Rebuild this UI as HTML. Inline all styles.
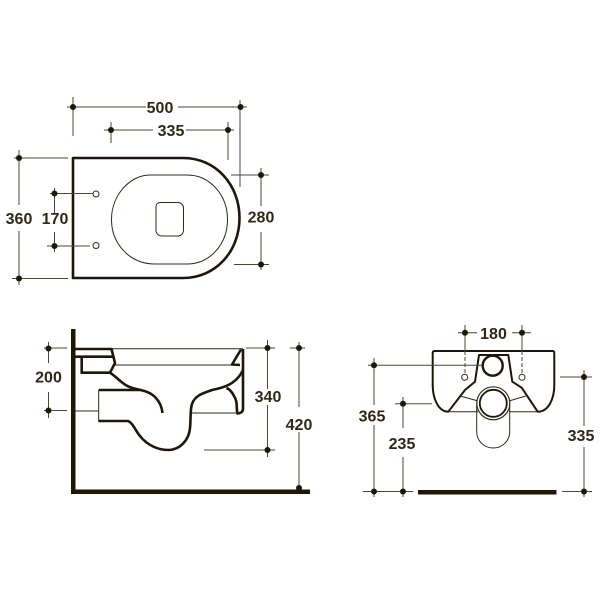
<!DOCTYPE html>
<html><head><meta charset="utf-8"><style>
html,body{margin:0;padding:0;background:#fff;width:600px;height:600px;overflow:hidden}
svg{display:block}
text{font-family:"Liberation Sans",sans-serif;font-weight:bold;font-size:16px;fill:#2e2818;text-anchor:middle}
.d{stroke:#4a4536;stroke-width:1;fill:none}
.t{stroke:#1e1608;fill:none;stroke-width:2.6;stroke-linejoin:round}
.n{stroke:#2e2818;fill:none;stroke-width:1}
.m{stroke:#1e1608;fill:none;stroke-width:2;stroke-linejoin:round}
circle.p{fill:#1e1608;stroke:none}
</style></head><body>
<svg width="600" height="600" viewBox="0 0 600 600" xmlns="http://www.w3.org/2000/svg">
<rect width="600" height="600" fill="#fff"/>
<!-- top view -->
<path class="t" d="M73 158H183C216 158 239.500 185 239.500 218C239.500 251 216 278 183 278H73Z"/>
<path class="n" d="M150 175H187C210 175 227.500 195 227.500 219.500C227.500 244 210 264 187 264H155C130 264 111.500 244 111.500 219.500C111.500 195 130 175 150 175Z"/>
<path class="n" d="M160 202.500H178C181 202.500 183.500 205 183.500 208V230C183.500 233.500 181 236 178 236H162C158.500 236 156 233.500 156 230V206.500C156 204 158 202.500 160 202.500Z"/>
<circle class="n" cx="96" cy="194" r="3"/><circle class="n" cx="96" cy="245.500" r="3"/>
<path class="d" d="M67 107H146M178 107H247M73 97V136M240 100V187M104 130H153M186 130H234M111 122V143M228 122V160M14 158H68M12 278.500H68M19 150V205M19 231V285M50 193.500H93M47 246H90M54.500 188V213M54.500 232V252M231 175H269M234 264.500H269M261 168V206M261 232V270"/>
<circle class="p" cx="73" cy="107" r="3"/><circle class="p" cx="240.500" cy="107" r="3"/>
<circle class="p" cx="111" cy="130" r="3"/><circle class="p" cx="228" cy="130" r="3"/>
<circle class="p" cx="19" cy="158" r="3"/><circle class="p" cx="19" cy="278.500" r="3"/>
<circle class="p" cx="54.500" cy="193.500" r="3"/><circle class="p" cx="54.500" cy="246" r="3"/>
<circle class="p" cx="261" cy="175" r="3"/><circle class="p" cx="261" cy="264.500" r="3"/>
<text x="160" y="113">500</text><text x="171" y="136">335</text>
<text x="19" y="224">360</text><text x="55" y="224">170</text><text x="261" y="222.500">280</text>
<!-- side view -->
<path d="M71 329H75.500V489.500H310V494H71Z" fill="#1e1608"/>
<path class="n" d="M111 348.700H243M115 365H236M75 411H98.700M98.700 390V422M192 413H237"/>
<path class="t" d="M75 349H111.500L115 363L110 372.700H81.700V356.700M75 356.700H113"/>
<path class="t" d="M110 372.700C118 378 123 385 131 387.500C139 390.500 148 390 155 397C160 402 162 408 162.500 413"/>
<path class="t" d="M98.700 390H140M98.700 421H128C133 423 135 430 140 436C147 445 158 450 168 450C180 450 189 440 190 428C191 418 190 410 192 404C195 395 204 393 212 390C222 388 236 385 243 370"/>
<path class="t" stroke-width="2.400" d="M243 349V409C243 412 240 413.500 237.500 413.500C236 408 238 402 234 396C232 392 229 389 226.500 388M241 349.500L232 364.500L240 365"/>
<path class="d" d="M246 348H275M204 450H275M267.500 340V389M267.500 405V457M305 348H290M299 342V407M299 432V488M44 348H67M44 410.500H67M48.500 342V363M48.500 392V418"/>
<circle class="p" cx="267.500" cy="348" r="3"/><circle class="p" cx="267.500" cy="450" r="3"/>
<circle class="p" cx="299" cy="348" r="3"/><circle class="p" cx="299" cy="488" r="3"/>
<circle class="p" cx="48.500" cy="348.500" r="3"/><circle class="p" cx="48.500" cy="410.500" r="3"/>
<text x="48.500" y="382.500">200</text><text x="268" y="402">340</text><text x="299" y="430">420</text>
<!-- front view -->
<path class="m" d="M434.500 351H552.500Q554.300 351 554.300 353V385C554.300 398 549 411.700 537.700 411.700L521.700 387.700L512.300 381.700L508.300 355H479L475 381.700L465 390L448.300 411.700C438 411.700 432.700 398 432.700 385V353Q432.700 351 434.500 351Z"/>
<path class="n" d="M448.300 411.700H478M509 411.700H537.700M460 396L478.300 401M509 401L525.700 396"/>
<circle cx="492.700" cy="365.700" r="10" fill="#fff" stroke="#1e1608" stroke-width="2.400"/>
<path class="n" stroke-width="1.200" d="M476.700 405V431.500C476.700 441 484 448 493.200 448C502.500 448 509.700 441 509.700 431.500V405"/>
<circle cx="493.300" cy="403.300" r="16.500" fill="#fff" stroke="#2e2818" stroke-width="1.200"/>
<circle cx="493.300" cy="403.300" r="13.500" fill="#fff" stroke="#1e1608" stroke-width="1.800"/>
<circle class="n" cx="464.700" cy="377.300" r="3"/><circle class="n" cx="522" cy="377.300" r="3"/>
<path class="d" stroke-dasharray="4 2" d="M465 351V373M522 351V373"/>
<path class="d" d="M458 332.700H477M512 332.700H531M465 325V351M522 325V351M368 365.300H482M363 491.500H413M395 403.700H432M374 358V405M374 425V497M403 397V428M403 457V497M560 377H592M562 491.500H592M584 370V426M584 447V497"/>
<rect x="418" y="490" width="138.500" height="4.500" fill="#1e1608"/>
<circle class="p" cx="465" cy="332.700" r="3"/><circle class="p" cx="522" cy="332.700" r="3"/>
<circle class="p" cx="374" cy="365.300" r="3"/><circle class="p" cx="374" cy="491.500" r="3"/>
<circle class="p" cx="403" cy="403.700" r="3"/><circle class="p" cx="403" cy="491.500" r="3"/>
<circle class="p" cx="584" cy="377" r="3"/><circle class="p" cx="584" cy="491.500" r="3"/>
<text x="493.500" y="339">180</text><text x="372" y="421.500">365</text><text x="402" y="449">235</text><text x="581" y="441">335</text>
</svg>
</body></html>
